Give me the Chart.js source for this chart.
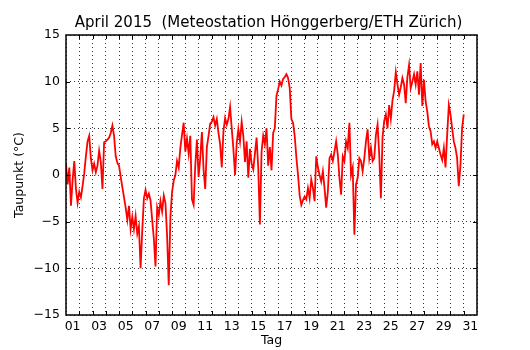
<!DOCTYPE html>
<html lang="de">

<head>
  <meta charset="UTF-8">
  <title>Taupunkt April 2015</title>
  <script src="https://cdn.jsdelivr.net/npm/chart.js"></script>
  <style>
    body {
      margin: 0;
      background-color: #fff;
    }

    #chart-box {
      width: 530px;
      height: 350px;
    }
  </style>
</head>

<body>
  <div id="chart-box">
    <canvas id="dew-chart"></canvas>
  </div>

  <script>
    // Tick labels
    const dayLabels = ['01', '03', '05', '07', '09', '11', '13', '15', '17', '19', '21', '23', '25', '27', '29', '31'];
    const yTickLabels = ['\u221215', '\u221210', '\u22125', '0', '5', '10', '15'];

    // Taupunkt in °C, 8 readings per day (every 3 h), one row per day
    const stepsPerDay = 8;
    const taupunkt = [
      1.2, -1.0, 0.8, -3.3, -0.5, 1.5, -1.5, -3.0,      // 01
      -1.8, -2.4, -1.2, 0.2, 2.0, 3.6, 4.2, 1.8,        // 02
      0.5, 1.2, 0.3, 1.0, 2.6, 1.4, -1.5, 3.5,          // 03
      3.6, 3.8, 4.0, 4.5, 5.3, 4.2, 2.0, 1.3,           // 04
      1.0, -0.2, -1.3, -2.4, -3.5, -4.8, -3.3, -5.8,    // 05
      -4.5, -5.8, -4.4, -6.3, -5.5, -10.0, -6.0, -2.5,  // 06
      -1.6, -2.5, -2.0, -2.7, -4.8, -6.8, -9.8, -3.5,   // 07
      -4.3, -2.8, -3.9, -2.2, -3.0, -6.5, -11.8, -4.5,  // 08
      -1.8, -0.6, 0.0, 1.5, 0.8, 2.9, 4.3, 5.6,         // 09
      2.5, 3.9, 2.3, 4.2, -2.6, -3.2, 1.0, 3.8,         // 10
      -0.2, 1.8, 4.6, 0.6, -1.5, 3.0, 4.2, 5.5,         // 11
      5.7, 6.2, 5.3, 6.0, 4.5, 3.3, 0.8, 4.7,           // 12
      6.1, 5.4, 6.0, 7.3, 5.0, 2.8, 0.0, 3.4,           // 13
      4.9, 3.6, 5.7, 4.2, 1.4, 3.6, -0.3, 2.8,          // 14
      1.2, 0.6, 2.3, 4.0, 0.8, -5.3, 2.5, 4.2,          // 15
      3.3, 5.0, 1.0, 3.0, 0.5, 4.5, 5.0, 8.5,           // 16
      9.2, 10.0, 9.6, 10.3, 10.5, 10.8, 10.4, 9.3,      // 17
      6.0, 5.6, 4.2, 1.9, 0.0, -2.2, -3.2, -2.7,        // 18
      -2.3, -2.6, -1.4, -2.5, -0.5, -1.4, -2.8, 2.0,    // 19
      0.8, 0.0, -0.7, 0.4, -1.4, -3.5, -1.8, 1.8,       // 20
      2.2, 1.5, 2.5, 3.6, 2.2, -0.3, -2.1, 2.0,         // 21
      1.5, 3.6, 2.9, 5.6, 0.0, 0.8, -6.4, -1.0,         // 22
      -0.3, 1.8, 1.5, 0.4, 1.8, 3.6, 4.9, 1.8,          // 23
      2.9, 1.5, 1.8, 4.3, 5.4, 2.2, -2.5, 4.0,          // 24
      5.8, 6.5, 5.0, 7.5, 6.0, 8.0, 9.0, 11.0,          // 25
      9.7, 8.6, 9.4, 10.4, 9.7, 7.7, 10.5, 11.8,        // 26
      9.3, 10.0, 10.8, 9.7, 11.1, 8.6, 12.0, 7.4,       // 27
      10.2, 7.9, 6.8, 5.2, 4.7, 3.3, 3.6, 2.9,          // 28
      3.6, 2.9, 2.2, 1.6, 2.9, 0.8, 4.3, 7.5,           // 29
      6.5, 5.0, 3.6, 2.9, 1.8, -1.2, 1.0, 5.0,          // 30
      6.5
    ];

    const points = taupunkt.map((v, i) => ({ x: i / stepsPerDay, y: v }));

    // frame round the plot plus matplotlib style inward ticks
    const framePlugin = {
      id: 'frame',
      afterDraw(chart) {
        const { ctx, chartArea: a, scales } = chart;
        ctx.save();
        ctx.strokeStyle = '#000';
        ctx.lineWidth = 1;
        ctx.beginPath();
        for (let d = 1; d < 31; d++) {
          const x = Math.round(scales.x.getPixelForValue(d)) + 0.5;
          ctx.moveTo(x, a.top); ctx.lineTo(x, a.top + 4);
          ctx.moveTo(x, a.bottom); ctx.lineTo(x, a.bottom - 4);
        }
        for (let v = -10; v <= 10; v += 5) {
          const y = Math.round(scales.y.getPixelForValue(v)) + 0.5;
          ctx.moveTo(a.left, y); ctx.lineTo(a.left + 4, y);
          ctx.moveTo(a.right, y); ctx.lineTo(a.right - 4, y);
        }
        ctx.stroke();
        ctx.lineWidth = 1.5;
        ctx.strokeRect(a.left, a.top, a.right - a.left, a.bottom - a.top);
        ctx.restore();
      }
    };

    const font = { family: 'DejaVu Sans', size: 12.5 };

    new Chart(document.getElementById('dew-chart'), {
      type: 'line',
      data: {
        datasets: [{
          label: 'Taupunkt',
          data: points,
          borderColor: '#ff0000',
          borderWidth: 1.8,
          pointRadius: 0,
          tension: 0,
          fill: false
        }]
      },
      options: {
        responsive: true,
        maintainAspectRatio: false,
        animation: false,
        layout: { padding: { left: 7, right: 0, top: 0, bottom: 0 } },
        plugins: {
          legend: { display: false },
          tooltip: { enabled: false },
          title: {
            display: true,
            text: 'April 2015  (Meteostation Hönggerberg/ETH Zürich)',
            color: '#000',
            font: { family: 'DejaVu Sans', size: 15, weight: 'normal' },
            padding: { top: 14, bottom: 3 }
          }
        },
        scales: {
          x: {
            type: 'linear',
            min: 0,
            max: 31,
            afterFit: (s) => { s.height = 35; },
            afterBuildTicks: (s) => {
              s.ticks = Array.from({ length: 32 }, (_, d) => ({ value: d }));
            },
            ticks: {
              autoSkip: false,
              maxRotation: 0,
              color: '#000',
              font: font,
              padding: 4,
              labelOffset: 6.6,
              callback: (v) => (v % 2 === 0 && v < 31) ? dayLabels[v / 2] : ''
            },
            grid: {
              color: '#000',
              lineWidth: 0.8,
              drawTicks: false
            },
            border: { display: false, dash: [1, 3] },
            title: {
              display: true,
              text: 'Tag',
              color: '#000',
              font: font,
              padding: { top: 0, bottom: 2 }
            }
          },
          y: {
            min: -15,
            max: 15,
            afterFit: (s) => { s.width = 59; },
            ticks: {
              stepSize: 5,
              color: '#000',
              font: font,
              padding: 6,
              callback: (v) => yTickLabels[(v + 15) / 5]
            },
            grid: {
              color: '#000',
              lineWidth: 0.8,
              drawTicks: false
            },
            border: { display: false, dash: [1, 3] },
            title: {
              display: true,
              text: 'Taupunkt (°C)',
              color: '#000',
              font: font,
              padding: { top: 5 }
            }
          },
          // empty right axis, only keeps the white margin on the right
          yr: {
            position: 'right',
            afterFit: (s) => { s.width = 53; },
            ticks: { display: false },
            grid: { display: false },
            border: { display: false }
          }
        }
      },
      plugins: [framePlugin]
    });
  </script>
</body>

</html>
